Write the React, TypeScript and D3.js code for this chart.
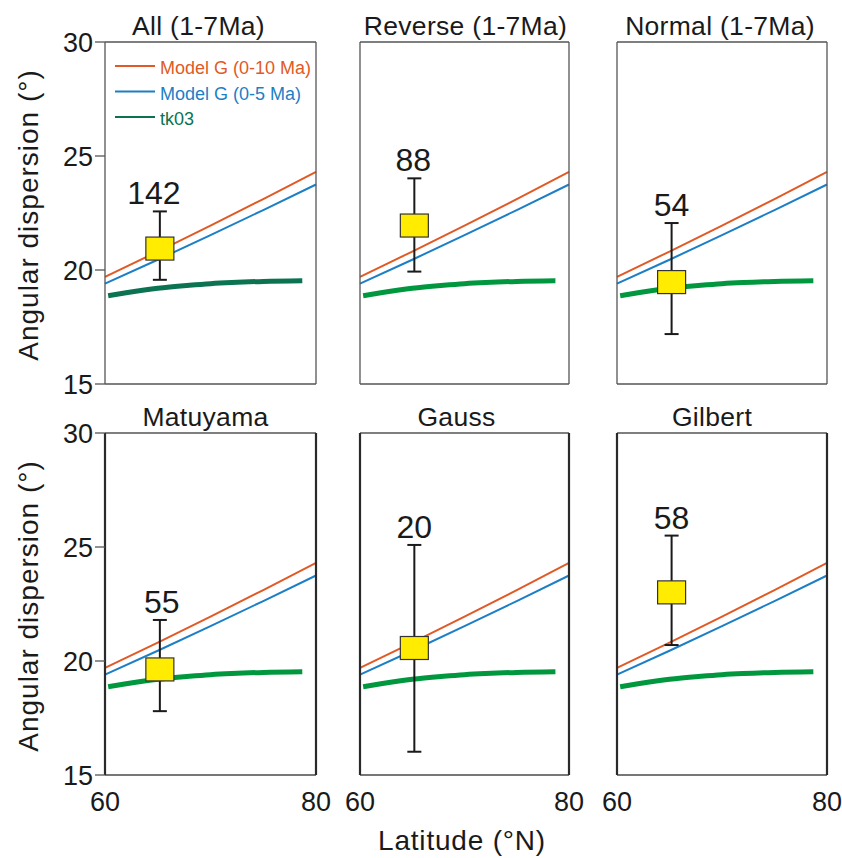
import React from "react";
import * as d3 from "d3";

// ---- data ----
const panelTitles = ["All (1-7Ma)", "Reverse (1-7Ma)", "Normal (1-7Ma)", "Matuyama", "Gauss", "Gilbert"];
const sampleCounts = ["142", "88", "54", "55", "20", "58"];
const siteLatitude = 65.2;
const dispersionMean = [20.94, 21.95, 19.47, 19.63, 20.57, 23.01];
const dispersionUpper = [22.57, 24.02, 22.06, 21.8, 25.09, 25.5];
const dispersionLower = [19.57, 19.93, 17.19, 17.8, 16.02, 20.7];

const modelLat = [60, 65, 70, 75, 80];
const modelG10 = [19.7, 20.81, 21.95, 23.11, 24.3];
const modelG5 = [19.4, 20.45, 21.53, 22.63, 23.75];

const tkLat = [60.3, 62, 65, 68, 70, 72, 75, 78.7];
const tk03 = [18.87, 19.0, 19.2, 19.33, 19.4, 19.45, 19.5, 19.53];

const yTicks = [15, 20, 25, 30];
const xTicks = [60, 80];
const legendLabels = ["Model G (0-10 Ma)", "Model G (0-5 Ma)", "tk03"];

// ---- layout ----
const colX: [number, number][] = [[105, 316], [360, 569], [617, 827]];
const rowY: [number, number][] = [[42, 384], [433, 775]];
const titleDx = [-12, 1, -2, -5, -8, -10];
const labelDx = [-6, -1, 0, 2, 0, 0];
const FONT = "'Liberation Sans', Arial, Helvetica, sans-serif";
const ORANGE = "#e15a26";
const BLUE = "#1c7fc6";
const TEAL = "#0b7352";
const GREEN = "#00973f";

function Panel({ i }: { i: number }) {
  const col = i % 3;
  const row = Math.floor(i / 3);
  const [x0, x1] = colX[col];
  const [y0, y1] = rowY[row];
  const x = d3.scaleLinear().domain([60, 80]).range([x0, x1]);
  const y = d3.scaleLinear().domain([15, 30]).range([y1, y0]);
  const line = d3
    .line<[number, number]>()
    .x((d) => x(d[0]))
    .y((d) => y(d[1]));
  const smooth = d3
    .line<[number, number]>()
    .x((d) => x(d[0]))
    .y((d) => y(d[1]))
    .curve(d3.curveMonotoneX);
  const g10 = modelLat.map((l, k) => [l, modelG10[k]] as [number, number]);
  const g5 = modelLat.map((l, k) => [l, modelG5[k]] as [number, number]);
  const tk = tkLat.map((l, k) => [l, tk03[k]] as [number, number]);
  const px = x(siteLatitude);
  const pm = y(dispersionMean[i]);
  const pu = y(dispersionUpper[i]);
  const pl = y(dispersionLower[i]);
  const boxW = 28;
  const boxH = 23;
  const capW = 14;
  const thickSides = row === 1;
  return (
    <g>
      <text
        x={(x0 + x1) / 2 + titleDx[i]}
        y={y0 - 7}
        textAnchor="middle"
        fontSize={26.5}
        letterSpacing={0.3}
        fill="#1a1a1a"
      >
        {panelTitles[i]}
      </text>
      {/* model lines */}
      <path d={line(g10) || ""} fill="none" stroke={ORANGE} strokeWidth={2} />
      <path d={line(g5) || ""} fill="none" stroke={BLUE} strokeWidth={2} />
      <path d={smooth(tk) || ""} fill="none" stroke={i === 0 ? TEAL : GREEN} strokeWidth={5} />
      {/* error bar */}
      <line x1={px} x2={px} y1={pu} y2={pl} stroke="#1a1a1a" strokeWidth={2} />
      <line x1={px - capW / 2} x2={px + capW / 2} y1={pu} y2={pu} stroke="#1a1a1a" strokeWidth={2} />
      <line x1={px - capW / 2} x2={px + capW / 2} y1={pl} y2={pl} stroke="#1a1a1a" strokeWidth={2} />
      <rect
        x={px - boxW / 2}
        y={pm - boxH / 2}
        width={boxW}
        height={boxH}
        fill="#ffec00"
        stroke="#333"
        strokeWidth={1.2}
      />
      <text x={px + labelDx[i]} y={pu - 7} textAnchor="middle" fontSize={32} fill="#1a1a1a">
        {sampleCounts[i]}
      </text>
      {/* frame */}
      <line x1={x0} x2={x1} y1={y0} y2={y0} stroke="#555" strokeWidth={1.3} />
      <line x1={x0} x2={x1} y1={y1} y2={y1} stroke={thickSides ? "#777" : "#555"} strokeWidth={thickSides ? 2 : 1.3} />
      <line x1={x0} x2={x0} y1={y0} y2={y1} stroke={thickSides ? "#2a2a2a" : "#555"} strokeWidth={thickSides ? 2.2 : 1.3} />
      <line x1={x1} x2={x1} y1={y0} y2={y1} stroke={thickSides ? "#2a2a2a" : "#555"} strokeWidth={thickSides ? 2.2 : 1.3} />
      {/* y axis on left column */}
      {col === 0 &&
        yTicks.map((t) => (
          <g key={t}>
            <line x1={x0 - 10} x2={x0} y1={y(t)} y2={y(t)} stroke="#555" strokeWidth={1.3} />
            <text x={x0 - 12} y={y(t) + 10} textAnchor="end" fontSize={27} fill="#1a1a1a">
              {t}
            </text>
          </g>
        ))}
      {col === 0 && (
        <text
          transform={`translate(38,${(y0 + y1) / 2 + 2}) rotate(-90)`}
          textAnchor="middle"
          fontSize={28}
          letterSpacing={1}
          fill="#1a1a1a"
        >
          Angular dispersion (°)
        </text>
      )}
      {/* x ticks on bottom row */}
      {row === 1 &&
        xTicks.map((t) => (
          <text key={t} x={x(t)} y={y1 + 36} textAnchor="middle" fontSize={27} fill="#1a1a1a">
            {t}
          </text>
        ))}
      {/* legend in first panel */}
      {i === 0 &&
        legendLabels.map((lab, k) => {
          const ly = 66 + k * 25.5;
          const c = [ORANGE, BLUE, TEAL][k];
          return (
            <g key={lab}>
              <line x1={115} x2={155} y1={ly} y2={ly} stroke={c} strokeWidth={2} />
              <text x={160} y={ly + 8} fontSize={18} fill={c}>
                {lab}
              </text>
            </g>
          );
        })}
    </g>
  );
}

export default function App() {
  return (
    <svg
      width={842}
      height={858}
      style={{ position: "absolute", left: 0, top: 0, background: "#fff" }}
      fontFamily={FONT}
    >
      <rect width={842} height={858} fill="#fff" />
      {panelTitles.map((_, i) => (
        <Panel key={i} i={i} />
      ))}
      <text x={462} y={850} textAnchor="middle" fontSize={28} letterSpacing={0.8} fill="#1a1a1a">
        Latitude (°N)
      </text>
    </svg>
  );
}
